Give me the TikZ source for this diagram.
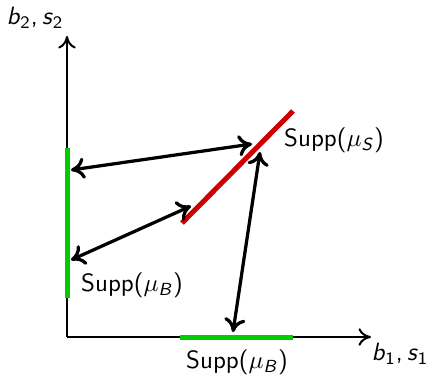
\documentclass[tikz,border=0pt]{standalone}
\usepackage{amsmath}
\usetikzlibrary{arrows.meta}
\definecolor{SuppGreen}{HTML}{00CC00}
\definecolor{SuppRed}{HTML}{CC0000}
\newcommand{\vsub}[2]{\textit{#1}\textsubscript{#2}}
\begin{document}
\begin{tikzpicture}[
  x=0.4pt, y=-0.4pt,
  every node/.style={font=\sffamily, inner sep=0pt},
  axis/.style={-{To[length=5pt,width=7pt]}, line width=0.8pt},
  supp/.style={line width=2pt, draw=SuppGreen},
  suppS/.style={line width=2pt, draw=SuppRed},
  arr/.style={{To[length=5.5pt,width=8.5pt]}-{To[length=5.5pt,width=8.5pt]}, line width=1.3pt}
]
\useasboundingbox (0,0) rectangle (427,374);

% axes
\coordinate (orig) at (67,337);
\coordinate (ytip) at (67,36);
\coordinate (xtip) at (371,337);
\draw[axis] (orig) -- (ytip);
\draw[axis] (orig) -- (xtip);
\node (ylab) at (35,18) {\vsub{b}{2},\,\vsub{s}{2}};
\node (xlab) at (400,354) {\vsub{b}{1},\,\vsub{s}{1}};

% supports
\coordinate (bvtop) at (67,148);
\coordinate (bvbot) at (67,298);
\coordinate (bhl) at (180,337);
\coordinate (bhr) at (293,337);
\coordinate (slo) at (182,223);
\coordinate (shi) at (293,111);
\draw[supp] (bvtop) -- (bvbot);
\draw[supp] (bhl) -- (bhr);
\draw[suppS] (slo) -- (shi);

\node (lblS)  at (334,140) {Supp($\mu$\textsubscript{\textit{S}})};
\node (lblBv) at (132,285) {Supp($\mu$\textsubscript{\textit{B}})};
\node (lblBh) at (237,362) {Supp($\mu$\textsubscript{\textit{B}})};

% maps between supports
\coordinate (a1) at (71,170);
\coordinate (a2) at (252,144);
\coordinate (b1) at (71,260);
\coordinate (b2) at (191,206);
\coordinate (c1) at (233,332);
\coordinate (c2) at (260,152);
\draw[arr] (a1) -- (a2);
\draw[arr] (b1) -- (b2);
\draw[arr] (c1) -- (c2);
\end{tikzpicture}
\end{document}
